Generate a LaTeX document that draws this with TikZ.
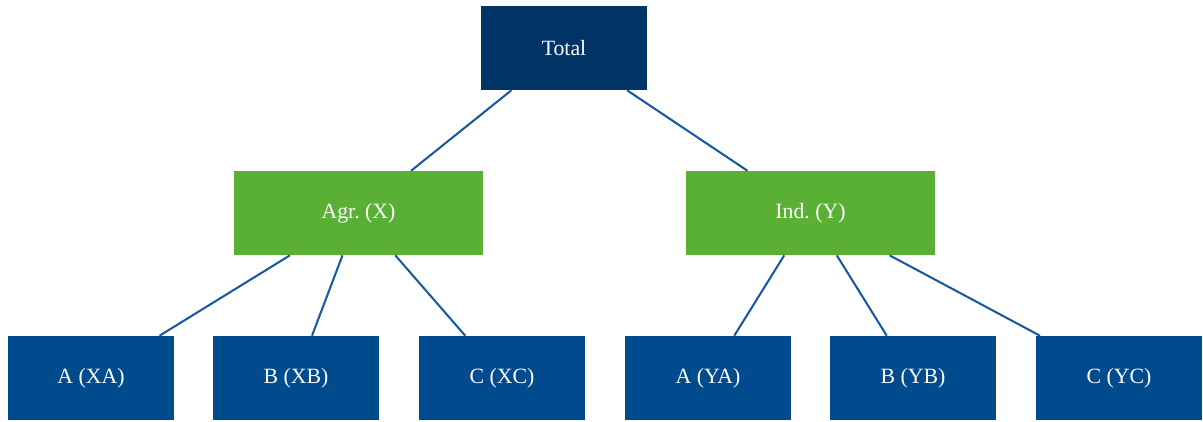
\documentclass[tikz,border=0pt]{standalone}
\usepackage{fontspec}
\setmainfont{Liberation Serif}
\usetikzlibrary{positioning}
\definecolor{navy}{RGB}{0,51,102}
\definecolor{leaf}{RGB}{90,175,53}
\definecolor{sector}{RGB}{0,75,141}
\definecolor{link}{RGB}{22,88,160}
\tikzset{
 box/.style={rectangle, inner sep=0pt, text=white, font=\fontsize{15.5}{18}\selectfont\frenchspacing},
 topbox/.style={box, fill=navy, minimum width=4.15cm, minimum height=2.1cm},
 midbox/.style={box, fill=leaf, minimum width=6.225cm, minimum height=2.1cm},
 lowbox/.style={box, fill=sector, minimum width=4.15cm, minimum height=2.1cm},
 edge/.style={draw=link, line width=1.45pt}
}

\begin{document}
\begin{tikzpicture}
 \useasboundingbox (0,0) rectangle (30.075,10.525);

 \node[topbox] (T) at (14.1,9.325) {Total};
 \node[midbox] (X) at (8.9625,5.2) {Agr. (X)};
 \node[midbox] (Y) at (20.2625,5.2) {Ind. (Y)};

 \node[lowbox] (XA) at (2.275,1.075) {A (XA)};
 \node[lowbox] (XB) at (7.4,1.075) {B (XB)};
 \node[lowbox] (XC) at (12.55,1.075) {C (XC)};
 \node[lowbox] (YA) at (17.7,1.075) {A (YA)};
 \node[lowbox] (YB) at (22.825,1.075) {B (YB)};
 \node[lowbox] (YC) at (27.975,1.075) {C (YC)};

 \draw[edge] (T) -- (X);
 \draw[edge] (T) -- (Y);
 \foreach \s in {XA,XB,XC} \draw[edge] (X) -- (\s);
 \foreach \s in {YA,YB,YC} \draw[edge] (Y) -- (\s);
\end{tikzpicture}
\end{document}
